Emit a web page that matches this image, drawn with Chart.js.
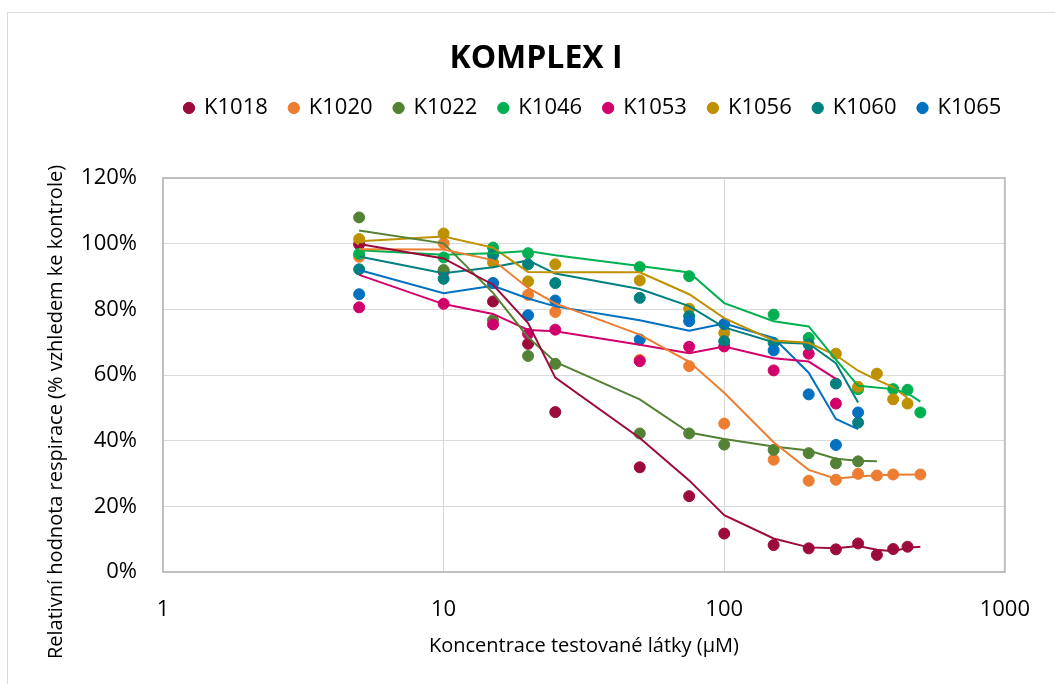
<!DOCTYPE html>
<html lang="cs">
<head>
<meta charset="utf-8">
<title>KOMPLEX I</title>
<script src="https://cdn.jsdelivr.net/npm/chart.js@4.4.1/dist/chart.umd.min.js"></script>
<style>
    html, body { margin: 0; padding: 0; background: #fff; }
</style>
</head>
<body>
<canvas id="chart" width="1055" height="684"></canvas>
<script>
// Koncentrace (µM) – společné hodnoty osy x
const conc = [5, 10, 15, 20, 25, 50, 75, 100, 150, 200, 250, 300, 350, 400, 450, 500];

const names = ['K1018', 'K1020', 'K1022', 'K1046', 'K1053', 'K1056', 'K1060', 'K1065'];
const colors = ['#9C0B3B', '#ED7D31', '#548235', '#00B050', '#D1006A', '#BF9000', '#00807F', '#0070C0'];

// Naměřené body (% kontroly), null = bod chybí
const k1018 = [99.8, 91.5, 82.4, 69.5, 48.7, 31.9, 23.1, 11.7, 8.2, 7.2, 6.9, 8.7, 5.2, 7.0, 7.7, null];
const k1020 = [96.0, 100.1, 88.0, 84.4, 79.2, 64.6, 62.7, 45.2, 34.2, 27.8, 28.1, 29.9, 29.4, 29.7, null, 29.7];
const k1022 = [108.0, 92.0, 76.7, 65.8, 63.4, 42.2, 42.2, 38.8, 37.2, 36.2, 33.1, 33.7, null, null, null, null];
const k1046 = [96.9, 95.8, 98.8, 97.1, null, 92.9, 90.1, null, 78.4, 71.3, null, 55.7, null, 55.7, 55.5, 48.6];
const k1053 = [80.6, 81.7, 75.4, 72.5, 73.8, 64.2, 68.6, 68.7, 61.4, 66.5, 51.3, null, null, null, null, null];
const k1056 = [101.4, 103.1, 94.3, 88.5, 93.7, 88.8, 80.2, 72.8, null, null, 66.5, 56.4, 60.4, 52.6, 51.3, null];
const k1060 = [92.2, 89.3, 96.6, 93.7, 88.0, 83.5, 77.9, 70.3, 69.8, 69.3, 57.4, 45.5, null, null, null, null];
const k1065 = [84.6, null, 88.0, 78.2, 82.7, 70.8, 76.4, 75.5, 67.5, 54.1, 38.7, 48.6, null, null, null, null];

// Spojnice trendu (klouzavý průměr)
const k1018Trend = [99.9, 95.5, 87.5, 75.8, 59.2, 40.8, 27.9, 17.3, 10.2, 7.5, 7.2, 7.9, 6.8, 6.3, 7.4, 7.7];
const k1020Trend = [98.3, 98.2, 95.0, 86.5, 81.8, 72.3, 64.0, 54.6, 39.5, 31.1, 28.4, 29.1, 29.5, 29.6, null, 29.7];
const k1022Trend = [104.0, 100.1, 85.0, 71.5, 64.0, 52.6, 42.5, 40.5, 38.2, 37.0, 34.5, 33.9, 33.7, null, null, null];
const k1046Trend = [98.0, 96.6, 97.1, 97.8, 96.5, 93.2, 91.2, 81.9, 76.4, 74.8, 64.7, 56.7, null, 55.7, 54.5, 51.9];
const k1053Trend = [90.5, 81.6, 78.6, 73.7, 73.3, 69.2, 66.6, 68.7, 65.1, 64.1, 58.8, null, null, null, null, null];
const k1056Trend = [100.7, 102.2, 98.8, 91.4, 91.3, 91.3, 84.6, 77.3, 70.5, 69.8, 66.0, 61.3, 58.5, 56.3, 53.0, null];
const k1060Trend = [96.1, 91.0, 92.8, 94.9, 90.9, 86.2, 81.0, 74.5, 70.0, 69.5, 63.6, 51.6, null, null, null, null];
const k1065Trend = [92.0, 84.9, 87.2, 83.3, 80.9, 76.7, 73.5, 75.7, 71.3, 60.7, 46.6, 43.5, null, null, null, null];

const yTicks = [0, 20, 40, 60, 80, 100, 120];
const xTicks = [1, 10, 100, 1000];

const points = [k1018, k1020, k1022, k1046, k1053, k1056, k1060, k1065];
const trends = [k1018Trend, k1020Trend, k1022Trend, k1046Trend, k1053Trend, k1056Trend, k1060Trend, k1065Trend];

const FONT = "'Open Sans', 'DejaVu Sans', sans-serif";
Chart.defaults.font.family = FONT;
Chart.defaults.color = '#000';

function toXY(values) {
    return conc.map((x, i) => ({ x, y: values[i] })).filter((p) => p.y !== null);
}

const datasets = [];
points.forEach((values, i) => {
    datasets.push({
        label: names[i],
        data: toXY(values),
        backgroundColor: colors[i],
        borderColor: colors[i],
        borderWidth: 1,
        pointRadius: 5.5,
        pointHoverRadius: 5.5,
        showLine: false,
        order: 10 - i,   // pozdější série leží nahoře jako v Excelu
    });
});
trends.forEach((values, i) => {
    datasets.push({
        label: names[i] + ' trend',
        data: toXY(values),
        borderColor: colors[i],
        backgroundColor: colors[i],
        borderWidth: 2,
        pointRadius: 0,
        pointHoverRadius: 0,
        showLine: true,
        fill: false,
        order: 0,
    });
});

// Rámečky grafu, legenda v jednom řádku a popisek osy y
const decor = {
    id: 'decor',
    beforeInit(chart) {
        const legend = chart.legend;
        const fit = legend.fit;
        legend.fit = function () {
            this.maxWidth = chart.width;
            fit.call(this);
            this.height += 49;   // mezera mezi legendou a grafem
        };
    },
    afterLayout(chart) {
        const legend = chart.legend;
        legend.right = chart.width;
        legend.width = legend.right - legend.left;
    },
    beforeDraw(chart) {
        const ctx = chart.ctx;
        ctx.save();
        ctx.fillStyle = '#fff';
        ctx.fillRect(0, 0, chart.width, chart.height);
        ctx.strokeStyle = '#D9D9D9';
        ctx.lineWidth = 1;
        ctx.strokeRect(7.5, 12.5, chart.width + 10, chart.height + 10);
        ctx.restore();
    },
    beforeDatasetsDraw(chart) {
        const { left, top, right, bottom } = chart.chartArea;
        const ctx = chart.ctx;
        ctx.save();
        ctx.strokeStyle = '#BFBFBF';
        ctx.lineWidth = 2;
        ctx.strokeRect(left, top, right - left, bottom - top);
        ctx.restore();
    },
    afterDraw(chart) {
        const ctx = chart.ctx;
        ctx.save();
        ctx.translate(56, 412);
        ctx.rotate(-Math.PI / 2);
        ctx.font = '20px ' + FONT;
        ctx.fillStyle = '#000';
        ctx.textAlign = 'center';
        ctx.textBaseline = 'middle';
        ctx.fillText('Relativní hodnota respirace (% vzhledem ke kontrole)', 0, 0);
        ctx.restore();
    },
};

new Chart(document.getElementById('chart'), {
    type: 'scatter',
    data: { datasets },
    options: {
        responsive: false,
        animation: false,
        layout: { padding: { left: 17, right: 0, top: 0, bottom: 0 } },
        plugins: {
            title: {
                display: true,
                text: 'KOMPLEX I',
                color: '#000',
                font: { size: 32, weight: 'bold', lineHeight: 1 },
                padding: { top: 43, bottom: 0 },
            },
            legend: {
                position: 'top',
                align: 'start',
                fullSize: false,
                labels: {
                    usePointStyle: true,
                    pointStyle: 'circle',
                    boxWidth: 8,
                    boxHeight: 8,
                    padding: 22,
                    font: { size: 22 },
                    color: '#000',
                    filter: (item) => item.datasetIndex < names.length,
                    sort: (a, b) => a.datasetIndex - b.datasetIndex,
                },
            },
            tooltip: { enabled: false },
        },
        scales: {
            x: {
                type: 'logarithmic',
                min: 1,
                max: 1000,
                afterBuildTicks: (scale) => { scale.ticks = xTicks.map((v) => ({ value: v })); },
                afterFit: (scale) => { scale.height = 112; },
                grid: { color: '#D9D9D9', lineWidth: 1, drawTicks: false },
                border: { display: false },
                ticks: {
                    padding: 25,
                    font: { size: 22 },
                    color: '#000',
                    callback: (v) => String(v),
                },
                title: {
                    display: true,
                    text: 'Koncentrace testované látky (µM)',
                    font: { size: 20 },
                    color: '#000',
                    padding: { top: 0, bottom: 26 },
                },
            },
            y: {
                min: 0,
                max: 120,
                afterBuildTicks: (scale) => { scale.ticks = yTicks.map((v) => ({ value: v })); },
                afterFit: (scale) => { scale.width = 146; },
                grid: { color: '#D9D9D9', lineWidth: 1, drawTicks: false },
                border: { display: false },
                ticks: {
                    padding: 26,
                    font: { size: 22 },
                    color: '#000',
                    callback: (v) => v + '%',
                },
            },
            y2: {
                position: 'right',
                afterFit: (scale) => { scale.width = 46; },
                grid: { display: false, drawTicks: false },
                border: { display: false },
                ticks: { display: false },
            },
        },
    },
    plugins: [decor],
});
</script>
</body>
</html>
